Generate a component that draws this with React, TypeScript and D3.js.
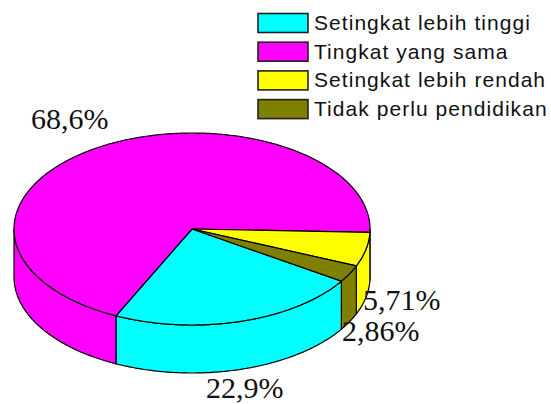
import React from "react";
import * as d3 from "d3";

const categories = ["Setingkat lebih tinggi", "Tingkat yang sama", "Setingkat lebih rendah", "Tidak perlu pendidikan"];
const values = [22.9, 68.6, 5.71, 2.86];
const valueLabels = ["22,9%", "68,6%", "5,71%", "2,86%"];
const colors = ["#00ffff", "#ff00ff", "#ffff00", "#808000"];
const labelPos: [number, number][] = [[206, 398], [31, 129], [363, 310], [342, 341]];

const cx = 192, cy = 229, rx = 178, ry = 96, depth = 48;
const startDeg = 122.9;

const pie = d3.pie<number>().sort(null)
  .startAngle((startDeg * Math.PI) / 180)
  .endAngle((startDeg * Math.PI) / 180 + 2 * Math.PI);
const arcs = pie(values);

const px = (a: number) => cx + rx * Math.sin(a);
const py = (a: number, dz = 0) => cy - ry * Math.cos(a) + dz;

const arcPts = (a0: number, a1: number, dz = 0): [number, number][] => {
  const n = Math.max(2, Math.ceil(Math.abs(a1 - a0) / 0.01));
  return d3.range(n + 1).map((i) => {
    const a = a0 + ((a1 - a0) * i) / n;
    return [px(a), py(a, dz)] as [number, number];
  });
};
const line = d3.line();

export default function App() {
  // the visible wall runs from east (pi/2) to west (3pi/2) in d3 pie angles
  const lo = Math.PI / 2, hi = (3 * Math.PI) / 2;
  const walls: { d: string; fill: string }[] = [];
  arcs.forEach((s, i) => {
    for (const shift of [0, 2 * Math.PI]) {
      const a0 = Math.max(s.startAngle - shift, lo);
      const a1 = Math.min(s.endAngle - shift, hi);
      if (a1 > a0) {
        const pts = [...arcPts(a0, a1), ...arcPts(a1, a0, depth)];
        walls.push({ d: line(pts)! + "Z", fill: colors[i] });
      }
    }
  });
  return (
    <svg width={551} height={404} style={{ position: "absolute", left: 0, top: 0, background: "#fff" }}>
      {walls.map((w, i) => (
        <path key={i} d={w.d} fill={w.fill} stroke="#000" strokeWidth={1.2} strokeLinejoin="round" />
      ))}
      {arcs.map((s, i) => {
        const pts: [number, number][] = [[cx, cy], ...arcPts(s.startAngle, s.endAngle)];
        return <path key={i} d={line(pts)! + "Z"} fill={colors[i]} stroke="#000" strokeWidth={1.2} strokeLinejoin="round" />;
      })}
      {categories.map((c, i) => (
        <g key={c}>
          <rect x={258} y={13.5 + i * 28.7} width={50} height={19} fill={colors[i]} stroke="#222" strokeWidth={1.6} />
          <text x={314} y={30 + i * 28.7} fontFamily="Liberation Sans" fontSize={21} letterSpacing={1.05} fill="#111">{c}</text>
        </g>
      ))}
      {valueLabels.map((t, i) => (
        <text key={t} x={labelPos[i][0]} y={labelPos[i][1]} fontFamily="Liberation Serif" fontSize={30} fill="#111">{t}</text>
      ))}
    </svg>
  );
}
